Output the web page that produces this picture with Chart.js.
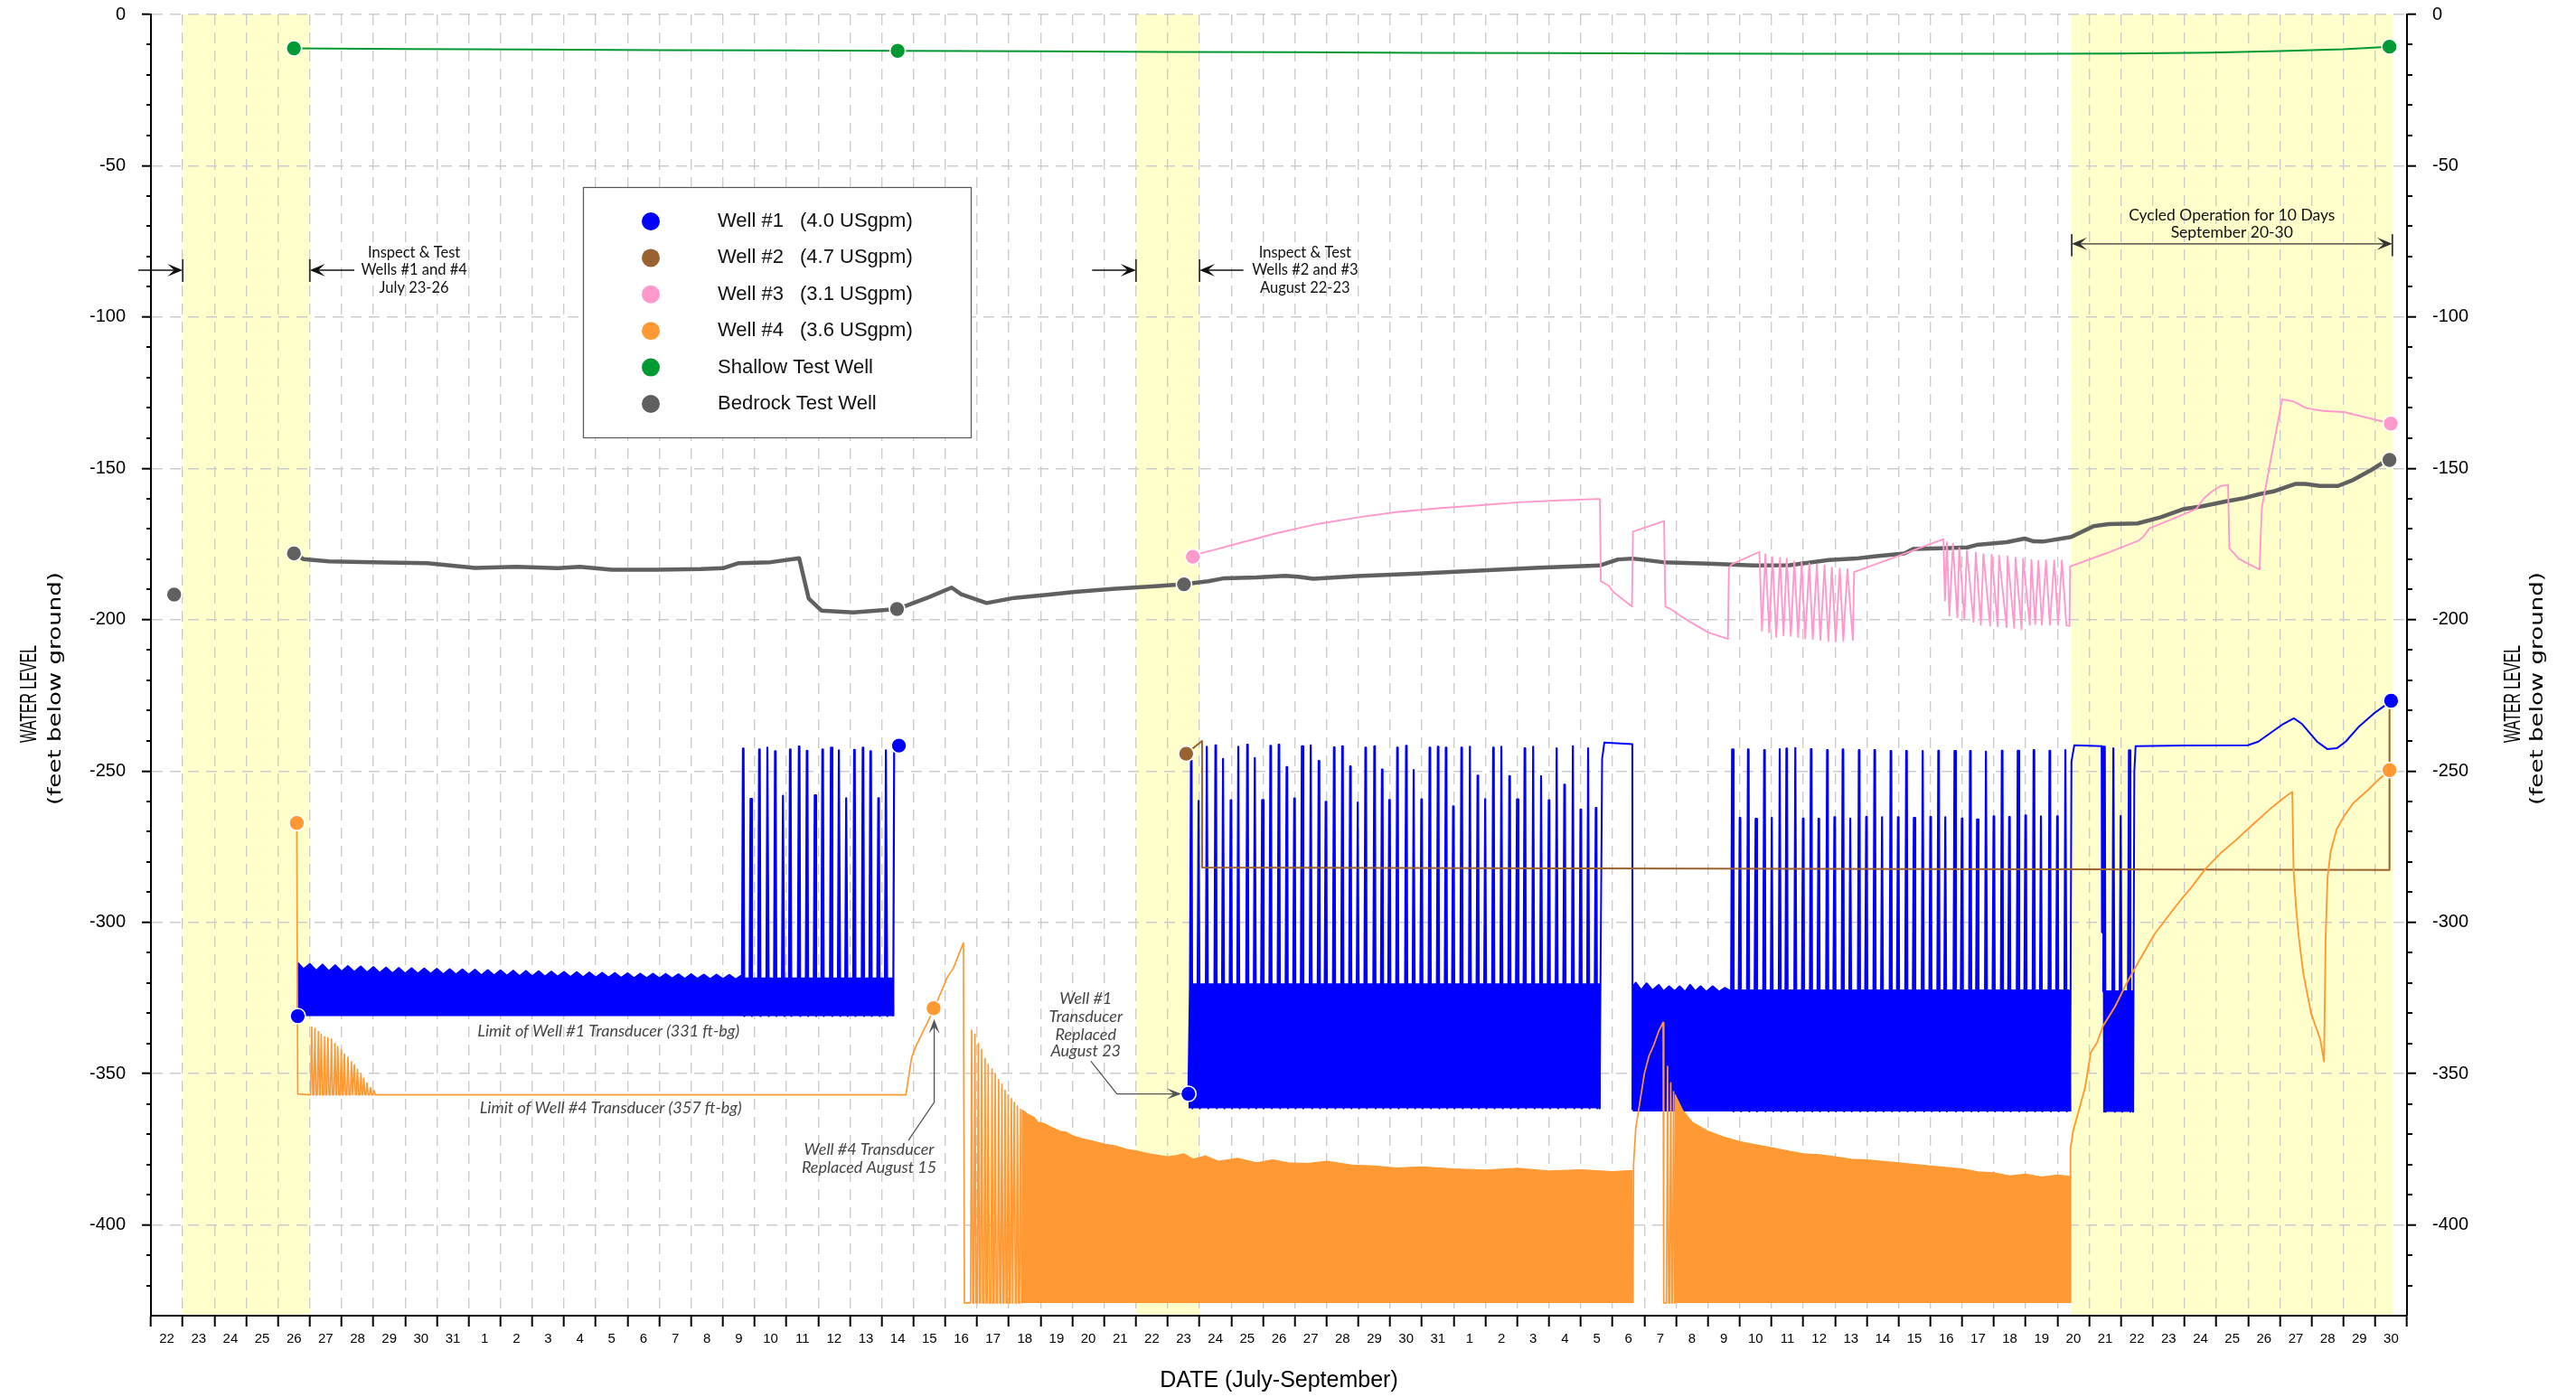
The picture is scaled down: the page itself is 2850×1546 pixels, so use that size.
<!DOCTYPE html>
<html>
<head>
<meta charset="utf-8">
<title>Water level - July to September</title>
<script src="https://cdn.jsdelivr.net/npm/chart.js@4.4.1/dist/chart.umd.min.js"></script>
<style>
html,body{margin:0;padding:0;background:#ffffff;overflow:hidden;}
#wrap{width:2850px;height:1546px;position:relative;}
canvas{display:block;}
</style>
</head>
<body>
<div id="wrap"><canvas id="chart" width="2850" height="1546"></canvas></div>
<script>
// ---------------- DATA (day index: 0 = start of July 22) ----------------
const dayLabels = ['22','23','24','25','26','27','28','29','30','31',
  '1','2','3','4','5','6','7','8','9','10','11','12','13','14','15','16','17','18','19','20','21','22','23','24','25','26','27','28','29','30','31',
  '1','2','3','4','5','6','7','8','9','10','11','12','13','14','15','16','17','18','19','20','21','22','23','24','25','26','27','28','29','30'];
const levelTicks = [-400, -350, -300, -250, -200, -150, -100, -50, 0];
const shadedPeriods = [[1, 5], [31, 33], [60.45, 70.56]];

const legendNames = ['Well #1', 'Well #2', 'Well #3', 'Well #4', 'Shallow Test Well', 'Bedrock Test Well'];
const legendRates = ['(4.0 USgpm)', '(4.7 USgpm)', '(3.1 USgpm)', '(3.6 USgpm)', '', ''];

// Shallow test well
const shallowSeries = [[4.5,-11.2],[8,-11.4],[12,-11.6],[16,-11.8],[20,-11.9],[23.5,-12.0],[28,-12.2],[32,-12.4],[36,-12.5],[40,-12.7],[44,-12.8],[48,-12.9],[52,-13.0],[56,-13.0],[59.2,-13.0],[62,-12.9],[64.8,-12.6],[67,-12.1],[69,-11.5],[70.45,-10.65]];
const shallowMarkers = [[4.5,-11.2],[23.5,-12.0],[70.45,-10.65]];

// Bedrock test well
const bedrockSeries = [[4.5,-178.1],[4.8,-180.0],[5.6,-180.7],[7.0,-181.0],[8.7,-181.3],[10.2,-182.9],[11.5,-182.5],[12.8,-183.0],[13.5,-182.5],[14.5,-183.5],[15.9,-183.5],[17.3,-183.3],[18.0,-183.0],[18.5,-181.3],[19.5,-181.0],[20.4,-179.7],[20.7,-193.0],[21.1,-197.0],[22.1,-197.6],[23.48,-196.5],[24.5,-192.5],[25.2,-189.4],[25.5,-191.6],[26.3,-194.5],[27.17,-192.8],[28.2,-191.8],[29.08,-190.8],[30.35,-189.8],[31.5,-189.0],[32.51,-188.3],[33.27,-187.3],[33.78,-186.3],[34.8,-186.0],[35.69,-185.5],[36.1,-185.8],[36.58,-186.5],[37.97,-185.6],[39.88,-184.8],[41.78,-183.8],[43.69,-182.8],[45.59,-182.1],[46.17,-180.1],[46.64,-179.8],[47.59,-181.0],[49.01,-181.5],[50.43,-182.1],[51.57,-182.0],[52.8,-180.3],[53.66,-179.8],[54.23,-179.1],[55.18,-178.1],[55.46,-176.6],[56.6,-176.3],[57.17,-176.1],[57.45,-175.3],[58.4,-174.4],[58.97,-173.2],[59.25,-174.1],[59.54,-174.2],[60.43,-172.7],[61.14,-169.1],[61.61,-168.4],[62.52,-168.2],[63.23,-166.2],[63.99,-163.4],[64.56,-162.5],[65.32,-160.9],[65.89,-159.8],[66.36,-158.5],[66.84,-157.5],[67.5,-155.1],[67.79,-155.1],[68.26,-155.8],[68.83,-155.8],[69.31,-153.8],[69.88,-150.5],[70.35,-147.4],[70.45,-147.2]];
const bedrockMarkers = [[0.73,-191.7],[4.5,-178.1],[23.48,-196.5],[32.51,-188.3],[70.45,-147.2]];

// Well #3
const well3Series = [[32.79,-179.2],[32.82,-178.7],[33.5,-176.8],[34.17,-174.9],[35.43,-171.4],[36.7,-168.4],[37.97,-166.2],[39.24,-164.4],[40.51,-163.2],[41.78,-162.2],[43.05,-161.2],[44.32,-160.6],[45.6,-160.1],[45.63,-187.3],[45.88,-188.8],[46.02,-190.8],[46.61,-195.7],[46.64,-170.9],[47.62,-167.4],[47.66,-195.7],[47.78,-196.2],[48.35,-200.2],[49.01,-204.2],[49.63,-206.4],[49.66,-182.8],[49.77,-181.6],[50.62,-177.6],[50.70,-203.7],[50.81,-178.3],[50.93,-204.2],[51.03,-179.3],[51.15,-205.7],[51.27,-179.5],[51.38,-205.2],[51.48,-179.8],[51.61,-205.4],[51.72,-180.8],[51.84,-205.7],[51.95,-181.1],[52.06,-206.2],[52.19,-181.5],[52.30,-206.4],[52.43,-181.8],[52.54,-206.7],[52.67,-182.1],[52.79,-207.0],[52.90,-182.8],[53.02,-207.2],[53.15,-183.1],[53.26,-207.0],[53.39,-183.3],[53.56,-206.7],[53.60,-184.3],[55.0,-178.9],[56.41,-173.4],[56.46,-193.7],[56.52,-174.4],[56.60,-198.7],[56.71,-174.9],[56.85,-199.2],[56.91,-176.3],[57.07,-199.7],[57.15,-177.1],[57.36,-200.7],[57.43,-177.8],[57.59,-201.7],[57.67,-178.3],[57.88,-202.0],[57.93,-178.5],[58.12,-202.2],[58.16,-178.8],[58.40,-202.5],[58.43,-179.1],[58.64,-202.7],[58.68,-179.5],[58.87,-203.2],[58.92,-179.8],[59.13,-201.7],[59.18,-180.3],[59.30,-201.5],[59.40,-180.5],[59.51,-201.7],[59.64,-180.4],[59.76,-201.7],[59.90,-180.4],[60.02,-201.7],[60.14,-180.4],[60.28,-201.9],[60.38,-202.0],[60.40,-182.4],[61.5,-178.2],[62.56,-173.8],[62.71,-172.5],[62.9,-169.8],[63.6,-166.8],[64.37,-163.4],[64.6,-160.0],[64.84,-157.8],[65.1,-156.0],[65.37,-155.4],[65.41,-176.4],[65.7,-179.8],[66.0,-181.5],[66.36,-183.4],[66.43,-163.1],[67.07,-127.2],[67.41,-127.8],[67.6,-128.8],[67.83,-130.1],[68.36,-131.0],[69.02,-131.4],[70.49,-135.2]];
const well3Markers = [[32.79,-179.2],[70.49,-135.2]];

// Well #2
const well2Series = [[32.58,-244.3],[33.08,-240.1],[33.08,-281.9],[45,-282.2],[60,-282.5],[70.45,-282.7],[70.45,-229.5]];
const well2Markers = [[32.58,-244.3]];

// Well #1
const well1BandTop1 = [[4.62,-331],[4.63,-313.5],[4.8,-315.5],[5.0,-313.8],[5.2,-316],[5.4,-314],[5.6,-316.2],[5.8,-314.2],[6.0,-316.3],[6.2,-314.5],[6.4,-316.5],[6.6,-314.6],[6.8,-316.6],[7.0,-314.8],[7.2,-316.8],[7.4,-315],[7.6,-316.9],[7.8,-315.1],[8.0,-317],[8.2,-315.2],[8.4,-317],[8.6,-315.3],[8.8,-317.1],[9.0,-315.4],[9.2,-317.2],[9.4,-315.5],[9.6,-317.3],[9.8,-315.6],[10.0,-317.4],[10.2,-315.7],[10.4,-317.5],[10.6,-315.8],[10.8,-317.6],[11.0,-315.9],[11.2,-317.7],[11.4,-316],[11.6,-317.8],[11.8,-316.1],[12.0,-317.9],[12.2,-316.2],[12.4,-318],[12.6,-316.3],[12.8,-318],[13.0,-316.4],[13.2,-318.1],[13.4,-316.5],[13.6,-318.2],[13.8,-316.6],[14.0,-318.3],[14.2,-316.7],[14.4,-318.3],[14.6,-316.8],[14.8,-318.4],[15.0,-316.9],[15.2,-318.5],[15.4,-317],[15.6,-318.5],[15.8,-317],[16.0,-318.6],[16.2,-317.1],[16.4,-318.6],[16.6,-317.2],[16.8,-318.7],[17.0,-317.2],[17.2,-318.7],[17.4,-317.3],[17.6,-318.8],[17.8,-317.3],[18.0,-318.8],[18.2,-317.4],[18.4,-318.9],[18.56,-317.8]];
const well1SpikeDays1 = [18.64,18.88,19.15,19.41,19.65,19.9,20.12,20.4,20.65,20.9,21.14,21.41,21.66,21.89,22.14,22.41,22.65,22.9,23.14,23.39];
const well1SpikePeaks1 = [-242.6,-259.2,-242.9,-242.3,-243.5,-258.2,-242.9,-241.9,-243.3,-258.0,-242.9,-242.3,-243.2,-259.0,-243.0,-242.3,-243.5,-259.0,-243.2,-243.5];
const well1SpikeDays2 = [32.74,32.98,33.24,33.51,33.75,33.99,34.23,34.51,34.75,34.98,35.24,35.50,35.75,35.99,36.23,36.51,36.76,36.98,37.24,37.50,37.75,37.99,38.23,38.51,38.75,38.98,39.23,39.51,39.75,39.99,40.25,40.51,40.76,40.99,41.25,41.52,41.76,42.00,42.25,42.51,42.76,43.00,43.24,43.51,43.76,44.00,44.25,44.49,44.76,45.00,45.24,45.48];
const well1SpikePeaks2 = [-246.5,-259.9,-242.0,-241.5,-246.0,-259.7,-242.0,-241.3,-245.7,-259.6,-241.7,-241.3,-248.7,-259.1,-241.8,-241.5,-246.7,-260.2,-242.2,-241.8,-248.5,-260.4,-242.3,-241.8,-249.5,-259.6,-242.3,-241.7,-249.7,-259.4,-242.3,-242.0,-242.3,-261.7,-242.3,-242.0,-251.5,-259.3,-242.3,-242.0,-251.7,-259.4,-242.5,-242.0,-251.7,-259.7,-242.5,-254.5,-241.8,-262.7,-242.5,-262.2];
const well1Plateau1 = [[45.59,-361.5],[45.67,-246],[45.74,-240.6],[46.62,-241.1],[46.63,-362]];
const well1Teeth3 = [[46.63,-362],[46.66,-321],[46.73,-320.0],[46.9,-322.5],[47.07,-320.2],[47.25,-322.5],[47.45,-320.7],[47.6,-322.8],[47.78,-321.2],[47.95,-322.8],[48.11,-321.2],[48.28,-323],[48.44,-320.7],[48.6,-322.8],[48.77,-321.2],[48.95,-323],[49.15,-321.2],[49.35,-323],[49.53,-321.7],[49.67,-322.5]];
const well1SpikeDays3 = [49.77,50.01,50.27,50.51,50.78,51.02,51.27,51.48,51.76,52.00,52.25,52.49,52.76,52.99,53.25,53.49,53.76,53.99,54.25,54.49,54.76,54.99,55.25,55.49,55.77,56.01,56.26,56.48,56.77,57.00,57.26,57.48,57.76,58.00,58.26,58.49,58.76,59.00,59.26,59.49,59.76,60.00,60.26];
const well1SpikePeaks3 = [-242.9,-265.5,-242.9,-265.8,-243.1,-265.5,-242.8,-242.6,-242.4,-265.7,-242.8,-265.8,-243.1,-265.3,-242.9,-265.7,-243.1,-265.2,-243.1,-265.3,-243.4,-265.3,-243.4,-265.5,-243.4,-265.2,-243.3,-265.3,-243.4,-265.7,-243.4,-266.0,-243.6,-265.0,-243.3,-265.2,-243.3,-264.7,-243.1,-265.0,-243.3,-265.0,-243.1];
const well1Plateau2 = [[60.40,-362.5],[60.44,-247],[60.53,-241.5],[61.39,-241.8],[61.40,-303.3],[61.42,-242],[61.45,-242],[61.47,-362.6]];
const well1SpikeDays4 = [61.48,61.77,62.0,62.26];
const well1SpikePeaks4 = [-242.0,-242.5,-264.9,-243.2];
const well1Tail = [[62.38,-362.6],[62.42,-250],[62.46,-241.8],[64,-241.6],[65.99,-241.5],[66.32,-240.3],[66.75,-237.1],[67.1,-234.5],[67.44,-232.6],[67.7,-234.5],[68.17,-240.3],[68.5,-242.8],[68.79,-242.5],[69.07,-240.3],[69.5,-235.2],[69.97,-230.9],[70.26,-228.7],[70.5,-226.8]];
const well1Markers = [[4.62,-331.0],[23.54,-241.6],[32.65,-356.7],[70.5,-226.8]];

// Well #4
const well4Head = [[4.59,-267.2],[4.62,-356.7],[5.0,-357]];
const well4EarlyDays = [5.06,5.16,5.27,5.36,5.47,5.57,5.68,5.79,5.88,5.99,6.09,6.2,6.31,6.4,6.5,6.61,6.7,6.8,6.91,7.02];
const well4EarlyPeaks = [-334.6,-335.1,-336.1,-337.1,-337.8,-338.1,-338.6,-340.1,-341.1,-342.1,-343.6,-344.6,-346.1,-347.1,-348.6,-350.1,-351.6,-353.1,-354.6,-355.6];
const well4Mid1 = [[7.1,-357],[23.76,-357],[23.94,-344.6],[24.09,-340.6],[24.5,-331.8],[24.63,-328.4],[24.75,-326],[25.06,-318.2],[25.26,-315],[25.57,-306.8],[25.6,-425.8]];
const well4SpikeDays2 = [25.83,25.93,26.04,26.14,26.25,26.35,26.47,26.57,26.68,26.78,26.88,26.98,27.08,27.17,27.27,27.37];
const well4SpikePeaks2 = [-335.7,-337,-340.1,-342,-345.1,-347,-348.5,-350,-352,-353.5,-355.5,-357,-358.3,-359.5,-360.7,-361.8];
const well4BandTop1 = [[27.4,-425.8],[27.42,-362],[27.6,-363.5],[27.8,-364.5],[27.9,-366],[28.1,-366.5],[28.3,-367.5],[28.6,-369],[28.8,-369.3],[29.0,-370.5],[29.3,-371.5],[29.7,-372.5],[30.0,-373.3],[30.4,-374],[30.7,-375],[31.0,-375.5],[31.4,-376.5],[31.7,-377],[32.0,-377.5],[32.3,-377],[32.5,-376.5],[32.8,-378.3],[33.2,-377.2],[33.6,-379],[34.2,-378],[34.8,-379.5],[35.3,-378.5],[35.8,-379.5],[36.4,-379.7],[37.0,-379],[37.8,-380.2],[38.5,-380.5],[39.2,-381.2],[40,-380.8],[41,-381.5],[42,-381.9],[43,-381.3],[44,-382.2],[45,-381.8],[46,-382.4],[46.62,-382],[46.64,-425.8]];
const well4Mid2 = [[46.64,-425.8],[46.66,-380],[46.73,-368],[46.85,-360],[47.0,-350],[47.15,-344],[47.3,-340.5],[47.45,-336],[47.59,-333.1],[47.61,-425.8]];
const well4SpikeDays3 = [47.73,47.83,47.92];
const well4SpikePeaks3 = [-347.6,-353.1,-356];
const well4BandTop2 = [[47.96,-425.8],[47.97,-357],[48.2,-362],[48.5,-366],[49,-369],[49.5,-371],[50,-372.5],[50.5,-373.5],[51,-374.5],[51.5,-375.5],[52,-376.5],[52.5,-376.8],[53,-377.5],[53.5,-378.3],[54,-378.5],[55,-379.5],[56,-380.5],[57,-381.5],[57.5,-382.5],[58,-382.8],[58.5,-383.8],[59,-383.2],[59.5,-384.2],[60,-383.5],[60.38,-384],[60.40,-425.8]];
const well4Tail = [[60.41,-425.8],[60.41,-374.9],[60.49,-369.1],[60.68,-361.9],[60.87,-354.6],[61.05,-343],[61.24,-339.9],[61.43,-334.4],[61.81,-327.9],[62.19,-319.9],[62.57,-312.7],[63.05,-304],[63.52,-297.5],[63.9,-292.4],[64.19,-288.8],[64.66,-282.3],[65.13,-277.2],[65.61,-272.9],[65.99,-269.2],[66.37,-265.6],[66.75,-262],[67.13,-258.8],[67.39,-256.9],[67.43,-282.3],[67.51,-295.3],[67.6,-305.4],[67.74,-317],[67.98,-330],[68.27,-338.7],[68.39,-346],[68.44,-305.4],[68.5,-285.2],[68.6,-276.5],[68.79,-269.2],[69.02,-264.9],[69.31,-260.6],[69.78,-256.2],[70.16,-252.3],[70.45,-249.7]];
const well4Markers = [[4.59,-267.2],[24.63,-328.4],[70.45,-249.7]];

// Band bounds (top of dense band, bottom of dense band)
const well1Band1 = [-318.6, -331];
const well1Band2 = [-320.5, -361.5];
const well1Band3 = [-322.5, -362.5];
const well1Band4 = [-322.8, -362.6];
const well4Floor = -425.8;
const well4Limit = -357;

// ---------------- BUILDERS ----------------
const COL = {blue:'#0000ff', brown:'#9a6230', pink:'#ff99cc', orange:'#ff9933', green:'#009933', gray:'#606060'};
const toPts = pairs => pairs.map(p => ({x:p[0], y:p[1]}));
function zigzag(days, peaks, base){
  const o = [];
  days.forEach((d,i) => { o.push({x:d-0.035,y:base},{x:d,y:peaks[i]},{x:d+0.035,y:base}); });
  return o;
}
function spikeBand(days, peaks, top, bottom){
  const o = [];
  days.forEach((d,i) => { o.push({x:d-0.04,y:top},{x:d-0.01,y:peaks[i]},{x:d+0.01,y:peaks[i]},{x:d+0.035,y:bottom},{x:d+0.065,y:top}); });
  return o;
}
function lineDs(label, data, color, width, order, fillValue){
  return {label, data, borderColor:color, backgroundColor:color, borderWidth:width, pointRadius:0, pointHoverRadius:0,
    fill: fillValue === undefined ? false : {value: fillValue}, tension:0, order, borderJoinStyle:'round'};
}
function dotDs(label, pairs, color){
  return {label, data: toPts(pairs), showLine:false, pointRadius:8.5, pointHoverRadius:8.5, pointBackgroundColor:color,
    pointBorderColor:'#ffffff', pointBorderWidth:1.6, order:0};
}

const n1 = well1SpikeDays1.length;
const datasets = [
  // Well #1 (blue)
  lineDs('Well #1', [...toPts(well1BandTop1), ...spikeBand(well1SpikeDays1.slice(0,n1-1), well1SpikePeaks1.slice(0,n1-1), well1Band1[0], well1Band1[1]), {x:23.35,y:well1Band1[0]}, {x:23.36,y:well1Band1[1]}], COL.blue, 2.2, 3, well1Band1[1]),
  lineDs('Well #1', [{x:23.36,y:well1Band1[1]}, {x:well1SpikeDays1[n1-1],y:well1SpikePeaks1[n1-1]}, {x:well1Markers[1][0],y:well1Markers[1][1]}], COL.blue, 2.2, 3),
  lineDs('Well #1', [{x:well1Markers[2][0],y:well1Markers[2][1]}, ...spikeBand(well1SpikeDays2, well1SpikePeaks2, well1Band2[0], well1Band2[1]), {x:45.59,y:well1Band2[0]}, {x:45.59,y:well1Band2[1]}], COL.blue, 2.2, 3, well1Band2[1]),
  lineDs('Well #1', toPts(well1Plateau1), COL.blue, 2, 3),
  lineDs('Well #1', [...toPts(well1Teeth3), ...spikeBand(well1SpikeDays3, well1SpikePeaks3, well1Band3[0], well1Band3[1]), {x:60.36,y:well1Band3[0]}, {x:60.40,y:well1Band3[1]}], COL.blue, 2.2, 3, well1Band3[1]),
  lineDs('Well #1', toPts(well1Plateau2), COL.blue, 2, 3),
  lineDs('Well #1', [{x:61.47,y:well1Band4[1]}, {x:61.47,y:well1Band4[0]}, ...spikeBand(well1SpikeDays4, well1SpikePeaks4, well1Band4[0], well1Band4[1]), {x:62.36,y:well1Band4[0]}, {x:62.38,y:well1Band4[1]}], COL.blue, 2.2, 3, well1Band4[1]),
  lineDs('Well #1', toPts(well1Tail), COL.blue, 2, 3),
  // Well #4 (orange)
  lineDs('Well #4', [...toPts(well4Head), ...zigzag(well4EarlyDays, well4EarlyPeaks, well4Limit), ...toPts(well4Mid1), ...zigzag(well4SpikeDays2, well4SpikePeaks2, well4Floor), {x:27.42,y:well4Floor}], COL.orange, 1.7, 1),
  lineDs('Well #4', toPts(well4BandTop1), COL.orange, 1.2, 1, well4Floor),
  lineDs('Well #4', [...toPts(well4Mid2), ...zigzag(well4SpikeDays3, well4SpikePeaks3, well4Floor), {x:47.96,y:well4Floor}], COL.orange, 1.7, 1),
  lineDs('Well #4', toPts(well4BandTop2), COL.orange, 1.2, 1, well4Floor),
  lineDs('Well #4', toPts(well4Tail), COL.orange, 1.9, 1),
  // Well #2, #3, test wells
  lineDs('Well #2', toPts(well2Series), COL.brown, 2, 2),
  lineDs('Well #3', toPts(well3Series), COL.pink, 1.9, 4),
  lineDs('Bedrock Test Well', toPts(bedrockSeries), COL.gray, 4.5, 5),
  lineDs('Shallow Test Well', toPts(shallowSeries), COL.green, 2, 6),
  // End-point markers
  dotDs('Well #1', well1Markers, COL.blue),
  dotDs('Well #2', well2Markers, COL.brown),
  dotDs('Well #3', well3Markers, COL.pink),
  dotDs('Well #4', well4Markers, COL.orange),
  dotDs('Shallow Test Well', shallowMarkers, COL.green),
  dotDs('Bedrock Test Well', bedrockMarkers, COL.gray)
];
const legendColors = [COL.blue, COL.brown, COL.pink, COL.orange, COL.green, COL.gray];

// ---------------- ANNOTATIONS (anchored in data units) ----------------
const inspectNotes = [
  {lines:['Inspect & Test','Wells #1 and #4','July 23-26'], textDay:8.28, from:-0.40, start:1.0, end:5.0, to:6.4},
  {lines:['Inspect & Test','Wells #2 and #3','August 22-23'], textDay:36.32, from:29.62, start:31.0, end:33.0, to:34.38}
];
const inspectTextLevels = [-78.8, -84.5, -90.5];
const inspectArrowLevel = -84.5;
const inspectBar = [-80.9, -88.4];
const cycledNote = {lines:['Cycled Operation for 10 Days','September 20-30'], textDay:65.49, levels:[-66.5,-72.1], start:60.45, end:70.54, arrowLevel:-75.8, bar:[-72.6,-79.9]};
const transducerNotes = [
  {lines:['Limit of Well #1 Transducer (331 ft-bg)'], day:14.4, levels:[-336.1]},
  {lines:['Limit of Well #4 Transducer (357 ft-bg)'], day:14.47, levels:[-361.5]},
  {lines:['Well #4 Transducer','Replaced August 15'], day:22.6, levels:[-375.0,-381.0], arrow:[[23.84,-372.0],[24.65,-359.5],[24.65,-332.0]]},
  {lines:['Well #1','Transducer','Replaced','August 23'], day:29.42, levels:[-325.2,-331.3,-337.1,-342.6], arrow:[[29.58,-345.9],[30.40,-356.7],[32.43,-356.7]]}
];
const yTitleLines = ['WATER LEVEL', '(feet below ground)'];

// ---------------- PLUGINS ----------------
const shadingPlugin = {
  id:'periodShading',
  beforeDraw(chart){
    const {ctx, chartArea:a, scales:{x}} = chart;
    ctx.save();
    ctx.fillStyle = '#ffffcc';
    shadedPeriods.forEach(([s,e]) => {
      const x1 = x.getPixelForValue(s), x2 = x.getPixelForValue(e);
      ctx.fillRect(x1, a.top, x2-x1, a.bottom-a.top);
    });
    ctx.restore();
  }
};

function arrowHead(ctx, tx, ty, dx, dy, len, half){
  const bx = tx - dx*len, by = ty - dy*len, nx = -dy, ny = dx;
  ctx.beginPath();
  ctx.moveTo(tx, ty);
  ctx.lineTo(bx + nx*half, by + ny*half);
  ctx.lineTo(tx - dx*len*0.55, ty - dy*len*0.55);
  ctx.lineTo(bx - nx*half, by - ny*half);
  ctx.closePath();
  ctx.fill();
}
function drawVerticalText(ctx, text, cx, cy, font, targetWidth){
  ctx.save();
  ctx.translate(cx, cy);
  ctx.rotate(-Math.PI/2);
  ctx.font = font;
  const w = ctx.measureText(text).width;
  ctx.scale(targetWidth / w, 1);
  ctx.fillStyle = '#000'; ctx.textAlign = 'center'; ctx.textBaseline = 'middle';
  ctx.fillText(text, 0, 0);
  ctx.restore();
}

const annotationPlugin = {
  id:'notes',
  afterDatasetsDraw(chart){
    const {ctx, scales:{x, y}} = chart;
    const X = v => x.getPixelForValue(v), Y = v => y.getPixelForValue(v);
    ctx.save();
    // Inspect & Test
    inspectNotes.forEach(n => {
      const ay = Y(inspectArrowLevel);
      ctx.strokeStyle = '#111'; ctx.fillStyle = '#111'; ctx.lineWidth = 1.4;
      ctx.beginPath(); ctx.moveTo(X(n.from), ay); ctx.lineTo(X(n.start)-4, ay); ctx.stroke();
      arrowHead(ctx, X(n.start), ay, 1, 0, 17, 7);
      ctx.beginPath(); ctx.moveTo(X(n.to), ay); ctx.lineTo(X(n.end)+4, ay); ctx.stroke();
      arrowHead(ctx, X(n.end), ay, -1, 0, 17, 7);
      ctx.strokeStyle = '#333'; ctx.lineWidth = 1.8;
      [n.start, n.end].forEach(d => { ctx.beginPath(); ctx.moveTo(X(d), Y(inspectBar[0])); ctx.lineTo(X(d), Y(inspectBar[1])); ctx.stroke(); });
      ctx.fillStyle = '#111';
      ctx.font = '16.5px Lato'; ctx.textAlign = 'center'; ctx.textBaseline = 'middle';
      n.lines.forEach((t,i) => ctx.fillText(t, X(n.textDay), Y(inspectTextLevels[i])));
    });
    // Cycled operation
    {
      const c = cycledNote, ay = Y(c.arrowLevel), xs = X(c.start), xe = X(c.end);
      ctx.strokeStyle = '#333'; ctx.fillStyle = '#333'; ctx.lineWidth = 1.4;
      ctx.beginPath(); ctx.moveTo(xs+4, ay); ctx.lineTo(xe-4, ay); ctx.stroke();
      arrowHead(ctx, xs, ay, -1, 0, 17, 7);
      arrowHead(ctx, xe, ay, 1, 0, 17, 7);
      ctx.lineWidth = 1.8;
      [xs, xe].forEach(px => { ctx.beginPath(); ctx.moveTo(px, Y(c.bar[0])); ctx.lineTo(px, Y(c.bar[1])); ctx.stroke(); });
      ctx.fillStyle = '#111'; ctx.font = '17.5px Lato'; ctx.textAlign = 'center'; ctx.textBaseline = 'middle';
      c.lines.forEach((t,i) => ctx.fillText(t, X(c.textDay), Y(c.levels[i])));
    }
    // Transducer notes
    transducerNotes.forEach(n => {
      ctx.fillStyle = '#444'; ctx.font = 'italic 18px Lato'; ctx.textAlign = 'center'; ctx.textBaseline = 'middle';
      n.lines.forEach((t,i) => ctx.fillText(t, X(n.day), Y(n.levels[i])));
      if (n.arrow) {
        ctx.strokeStyle = '#555'; ctx.fillStyle = '#555'; ctx.lineWidth = 1.3;
        const p = n.arrow.map(a => [X(a[0]), Y(a[1])]);
        const last = p[p.length-1], prev = p[p.length-2];
        const dx = last[0]-prev[0], dy = last[1]-prev[1], L = Math.hypot(dx,dy);
        ctx.beginPath(); ctx.moveTo(p[0][0], p[0][1]);
        for (let i=1;i<p.length-1;i++) ctx.lineTo(p[i][0], p[i][1]);
        ctx.lineTo(last[0]-dx/L*6, last[1]-dy/L*6);
        ctx.stroke();
        arrowHead(ctx, last[0], last[1], dx/L, dy/L, 16, 6);
      }
    });
    ctx.restore();
  },
  afterDraw(chart){
    const {ctx, scales:{y, yR}} = chart;
    ctx.save();
    // minor ticks on both level axes
    ctx.strokeStyle = '#000'; ctx.lineWidth = 2;
    for (let v = -420; v < 0; v += 10) {
      if (v % 50 === 0) continue;
      const py = Math.round(y.getPixelForValue(v));
      ctx.beginPath();
      ctx.moveTo(y.right, py); ctx.lineTo(y.right - 5, py);
      ctx.moveTo(yR.left, py); ctx.lineTo(yR.left + 6, py);
      ctx.stroke();
    }
    // axis titles (both read bottom to top)
    [[33, 62], [2781, 2808]].forEach(([x1, x2]) => {
      drawVerticalText(ctx, yTitleLines[0], x1, 768, '25px "Liberation Sans"', 108);
      drawVerticalText(ctx, yTitleLines[1], x2, 762, '20px "DejaVu Sans"', 258);
    });
    // legend
    const L = {x:645, y:207, w:429, h:277};
    ctx.fillStyle = '#fff'; ctx.fillRect(L.x, L.y, L.w, L.h);
    ctx.strokeStyle = '#555'; ctx.lineWidth = 1.2; ctx.strokeRect(L.x+0.5, L.y+0.5, L.w, L.h);
    ctx.font = '22px "Liberation Sans"'; ctx.textAlign = 'left'; ctx.textBaseline = 'middle';
    legendNames.forEach((nm, i) => {
      const ly = 245 + i*40.4;
      ctx.beginPath(); ctx.arc(720, ly, 10, 0, Math.PI*2); ctx.fillStyle = legendColors[i]; ctx.fill();
      ctx.fillStyle = '#111';
      ctx.fillText(nm, 794, ly);
      if (legendRates[i]) ctx.fillText(legendRates[i], 885, ly);
    });
    ctx.restore();
  }
};

// ---------------- CHART ----------------
const gridGray = '#cccccc';
const yAxisCommon = {
  type:'linear', min:-430, max:0,
  afterBuildTicks: s => { s.ticks = levelTicks.map(v => ({value:v})); },
  ticks:{ color:'#000', font:{family:'Liberation Sans', size:20}, padding:18, callback: v => String(v) },
  border:{ display:true, color:'#000', width:2, dash:[12,8] }
};

new Chart(document.getElementById('chart'), {
  type:'line',
  data:{ datasets },
  options:{
    responsive:false, maintainAspectRatio:false, animation:false, devicePixelRatio:1,
    events:[],
    layout:{ padding:{ top:16, left:0, right:0, bottom:0 } },
    plugins:{ legend:{display:false}, tooltip:{enabled:false}, title:{display:false} },
    scales:{
      x:{
        type:'linear', min:0, max:71, position:'bottom',
        afterBuildTicks: s => { s.ticks = dayLabels.concat(['']).map((_, i) => ({value:i})); },
        afterFit: s => { s.height = 90; s.paddingLeft = 0; s.paddingRight = 0; },
        ticks:{ autoSkip:false, maxRotation:0, minRotation:0, labelOffset:17.6, padding:5,
          color:'#000', font:{family:'Liberation Sans', size:15},
          callback: v => (dayLabels[v] !== undefined ? dayLabels[v] : '') },
        grid:{ color:gridGray, lineWidth:1.4, tickLength:12, tickColor:'#000', tickWidth:2, drawTicks:true },
        border:{ display:true, color:'#000', width:2, dash:[12,8] },
        title:{ display:true, text:'DATE (July-September)', color:'#000', font:{family:'Liberation Sans', size:25}, padding:{top:0, bottom:3} }
      },
      y: Object.assign({}, yAxisCommon, {
        position:'left',
        afterFit: s => { s.width = 167; s.paddingTop = 0; s.paddingBottom = 0; },
        grid:{ color:gridGray, lineWidth:1.4, tickLength:10, tickColor:'#000', tickWidth:2, drawOnChartArea:true }
      }),
      yR: Object.assign({}, yAxisCommon, {
        position:'right',
        afterFit: s => { s.width = 187; s.paddingTop = 0; s.paddingBottom = 0; },
        grid:{ color:gridGray, lineWidth:1.4, tickLength:10, tickColor:'#000', tickWidth:2, drawOnChartArea:false }
      })
    }
  },
  plugins:[shadingPlugin, annotationPlugin]
});
</script>
</body>
</html>
